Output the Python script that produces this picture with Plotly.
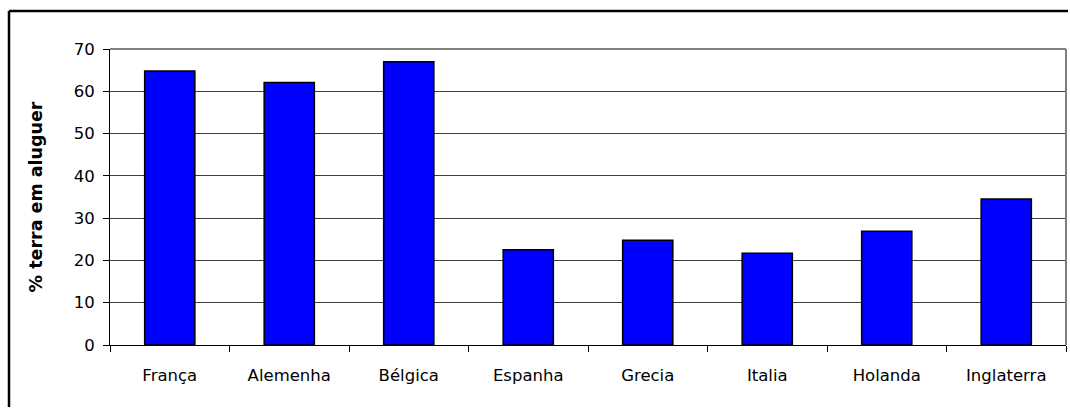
import plotly.graph_objects as go

categories = ["França", "Alemenha", "Bélgica", "Espanha", "Grecia", "Italia", "Holanda", "Inglaterra"]
values = [64.8, 62.1, 67.0, 22.5, 24.8, 21.7, 26.9, 34.5]
y_ticks = [0, 10, 20, 30, 40, 50, 60, 70]

W, H = 1070, 409
L, R, T, B = 110, 4, 49, 64
pw, ph = W - L - R, H - T - B

def px_x(x):
    return (x - L) / pw

def px_y(y):
    return 1 - (y - T) / ph

fig = go.Figure()
fig.add_trace(go.Bar(
    x=categories, y=values,
    marker=dict(color="#0000FF", line=dict(color="#000000", width=1.5)),
    width=0.42,
))

font = dict(family="DejaVu Sans, sans-serif", size=16.5, color="#000000")

fig.update_layout(
    width=W, height=H,
    margin=dict(l=L, r=R, t=T, b=B),
    paper_bgcolor="#FFFFFF", plot_bgcolor="#FFFFFF",
    showlegend=False,
    font=font,
    xaxis=dict(
        showline=True, linecolor="#000000", linewidth=1,
        ticks="outside", ticklen=6, tickcolor="#000000",
        tickson="boundaries",
        showgrid=False, tickfont=font,
        ticklabelstandoff=15,
        range=[-0.5, len(categories) - 0.5],
    ),
    yaxis=dict(
        range=[0, 70], tickvals=y_ticks,
        showline=True, linecolor="#000000", linewidth=1,
        ticks="outside", ticklen=6, tickcolor="#000000",
        showgrid=True, gridcolor="#404040", gridwidth=1,
        zeroline=False, tickfont=font,
        ticklabelstandoff=5,
        title=dict(text="<b>% terra em aluguer</b>",
                   font=dict(family="DejaVu Sans, sans-serif", size=17.5, color="#000000"),
                   standoff=26),
    ),
    shapes=[
        # plot area top/right border (gray)
        dict(type="line", xref="paper", yref="paper", x0=0, x1=1, y0=1, y1=1,
             line=dict(color="#808080", width=2)),
        dict(type="line", xref="paper", yref="paper", x0=1, x1=1, y0=0, y1=1,
             line=dict(color="#808080", width=2)),
        # outer chart border (left and top edges visible), kept inside the page
        dict(type="line", xref="paper", yref="paper",
             x0=px_x(9), x1=px_x(9), y0=px_y(H - 2), y1=px_y(11),
             line=dict(color="#000000", width=2.5)),
        dict(type="line", xref="paper", yref="paper",
             x0=px_x(9), x1=px_x(W - 2), y0=px_y(11), y1=px_y(11),
             line=dict(color="#000000", width=2.5)),
    ],
)

fig.write_html("out.html")
